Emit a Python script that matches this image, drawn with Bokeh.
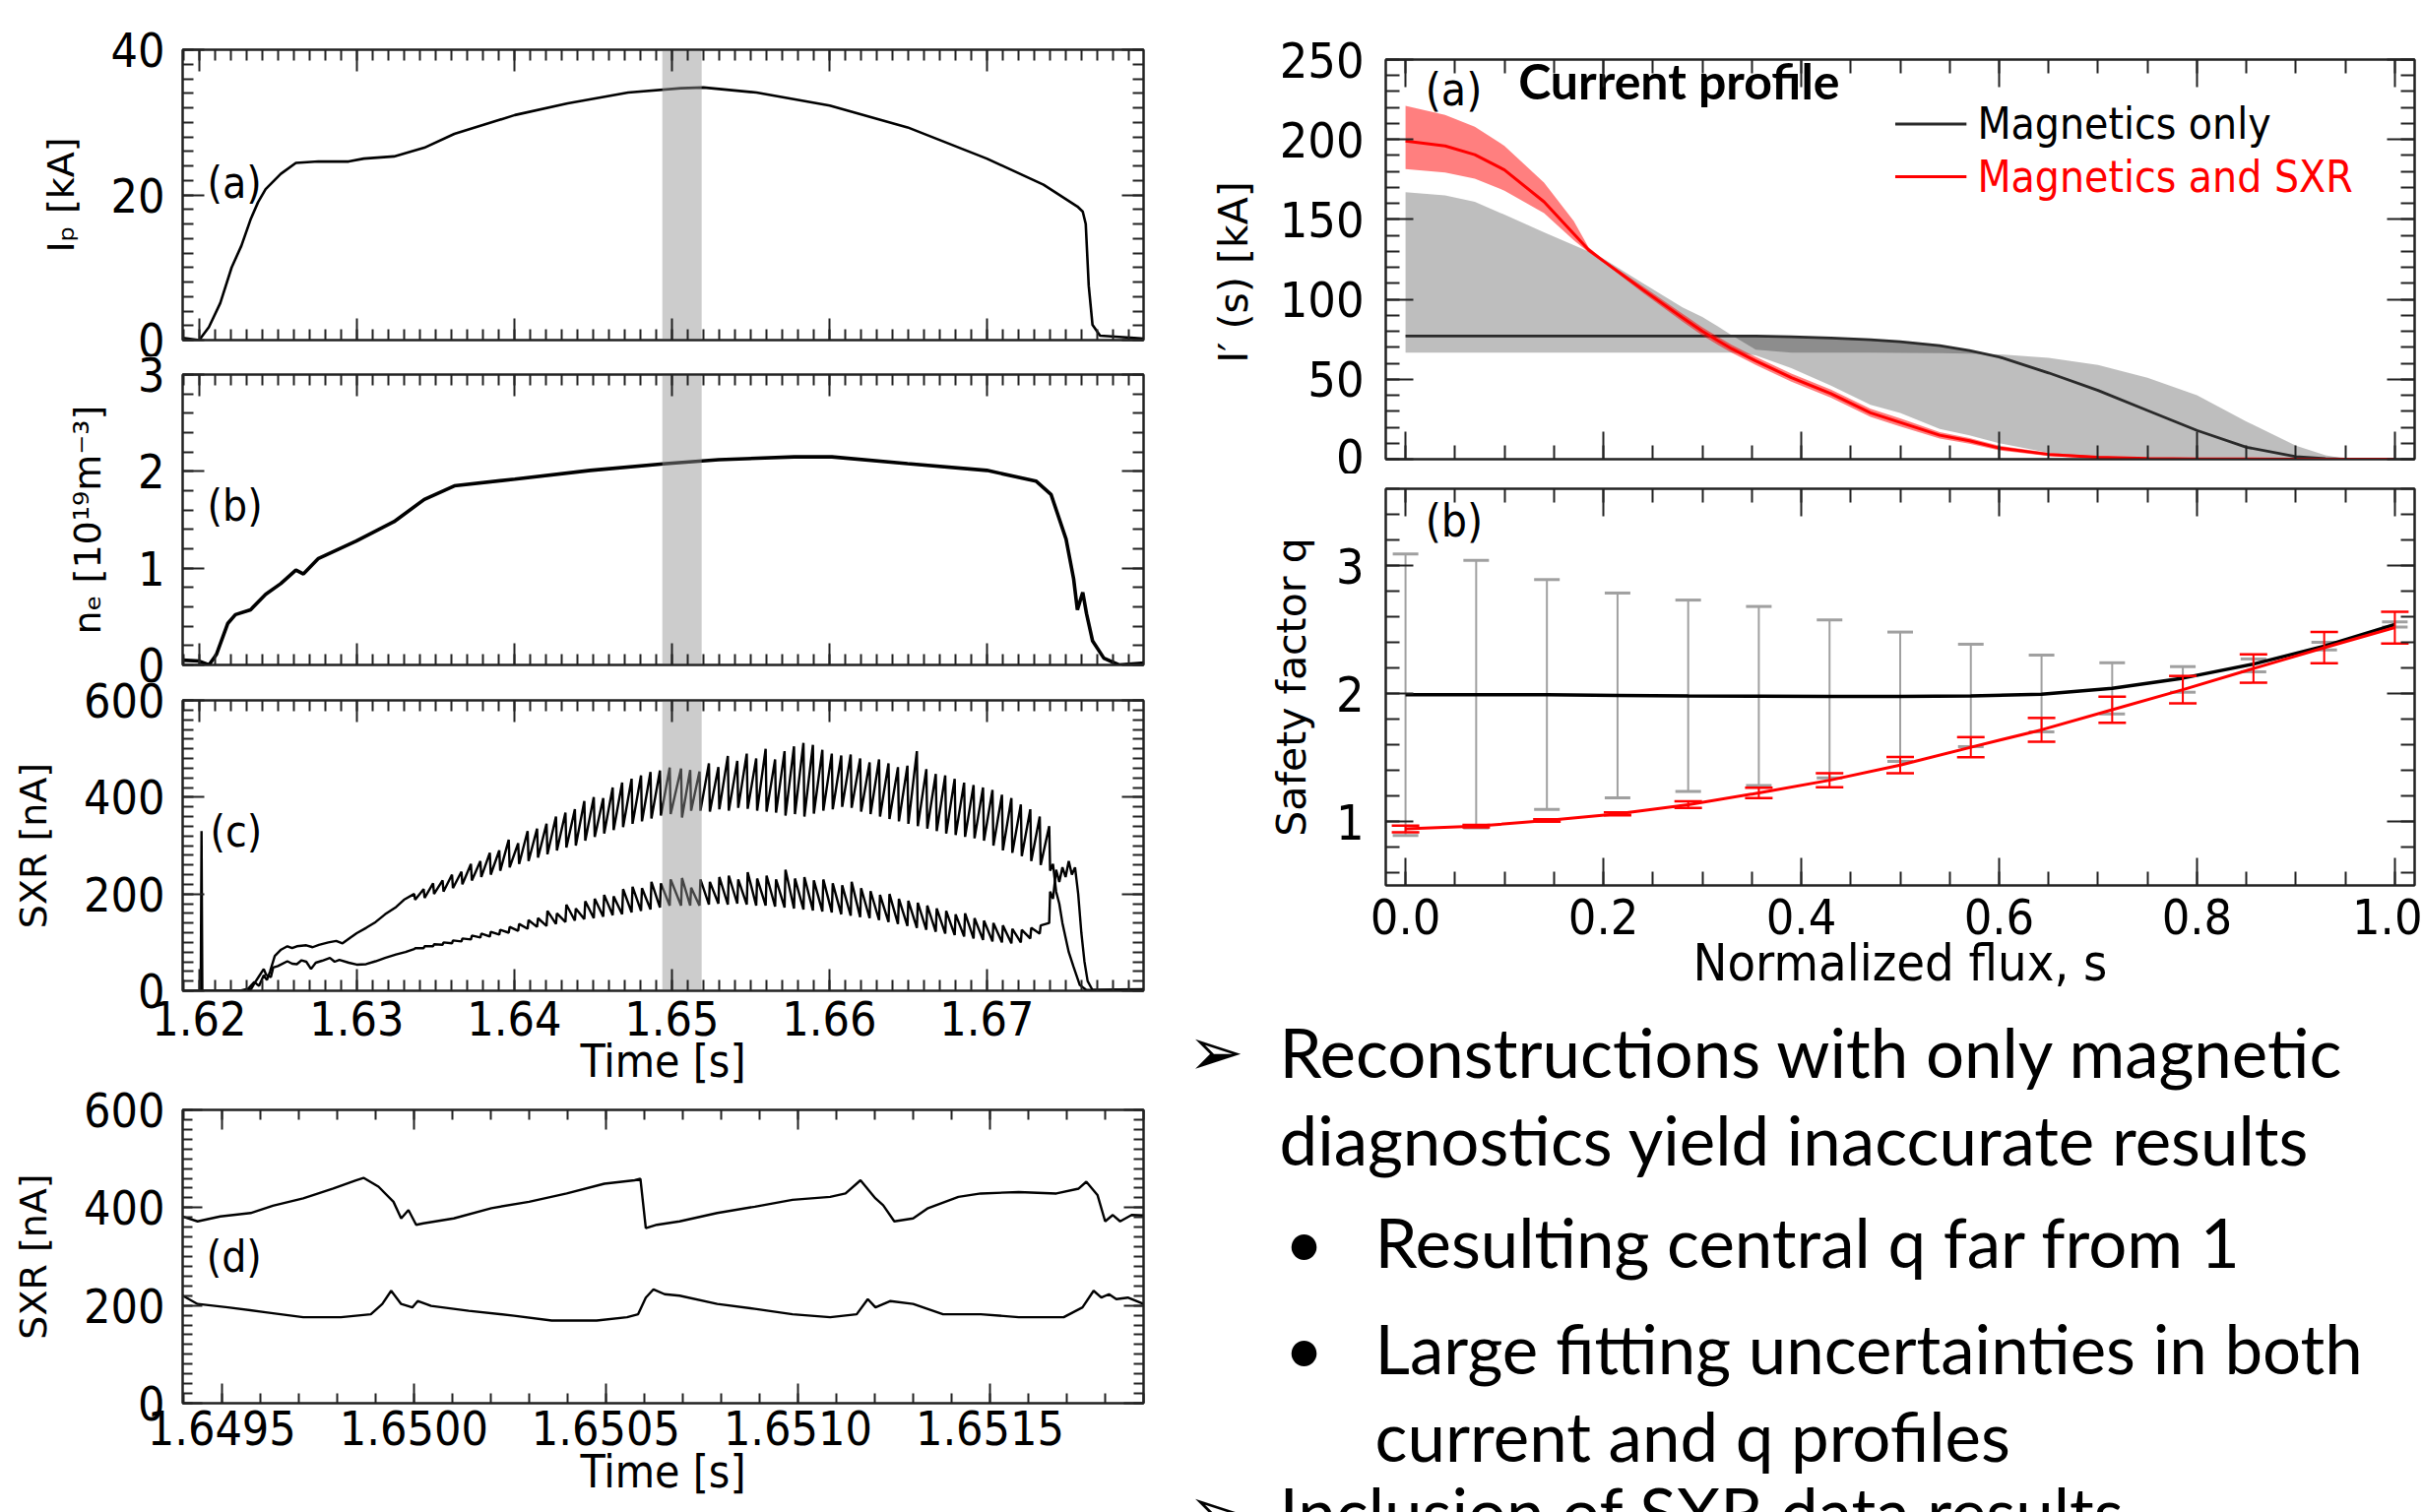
from bokeh.plotting import figure
from bokeh.layouts import row, column
from bokeh.models import (Range1d, LinearAxis, SingleIntervalTicker,
                          CustomJSTickFormatter, NumeralTickFormatter)
from bokeh.core.properties import value
from bokeh.embed import file_html
from bokeh.resources import INLINE

NARROW = "'Liberation Sans Narrow', 'DejaVu Sans Condensed', sans-serif"
LABEL = "DejaVu Sans"
BODY = "Lato"

# ---------------- data: left panels ----------------
band_t = [1.6494, 1.6519]

ip_t = [1.61895, 1.62, 1.62062, 1.62134, 1.62206, 1.62268, 1.62326, 1.62374, 1.62422, 1.62518,
        1.62614, 1.62757, 1.62949, 1.63045, 1.63237, 1.63429, 1.6362, 1.64004, 1.64339, 1.64723,
        1.65058, 1.65202, 1.65538, 1.66003, 1.66497, 1.67, 1.6736, 1.67575, 1.67609, 1.67628,
        1.67647, 1.67671, 1.67719, 1.67935, 1.68007]
ip_v = [0.3, 0.0, 1.8, 5.1, 10.0, 13.0, 16.6, 19.0, 20.8, 22.9,
        24.4, 24.6, 24.6, 25.0, 25.3, 26.5, 28.4, 31.0, 32.6, 34.1,
        34.7, 34.8, 34.1, 32.3, 29.3, 25.0, 21.4, 18.4, 17.7, 16.0,
        7.5, 2.1, 0.6, 0.3, 0.2]

ne_t = [1.61895, 1.62, 1.62062, 1.6211, 1.62182, 1.6223, 1.62326, 1.62422, 1.62518, 1.62614,
        1.62662, 1.62757, 1.62997, 1.63237, 1.63429, 1.6362, 1.64004, 1.64483, 1.64963, 1.65298,
        1.65778, 1.66017, 1.66497, 1.67, 1.67312, 1.67408, 1.67503, 1.67551, 1.67575, 1.67609,
        1.67633, 1.67671, 1.67743, 1.67839, 1.68007]
ne_v = [0.05, 0.04, 0.0, 0.11, 0.43, 0.52, 0.57, 0.73, 0.84, 0.98,
        0.94, 1.1, 1.28, 1.48, 1.71, 1.85, 1.92, 2.01, 2.08, 2.12,
        2.15, 2.15, 2.08, 2.01, 1.9, 1.76, 1.3, 0.89, 0.57, 0.75,
        0.53, 0.25, 0.07, 0.0, 0.02]

# SXR (c): start, sawtooth crashes, end
sxr1_pre_t = [1.619, 1.6201, 1.62015, 1.6202, 1.6226, 1.6231, 1.6235, 1.6238, 1.6241, 1.6243,
              1.6245, 1.6248, 1.6252, 1.6256, 1.6259, 1.6262, 1.6268, 1.6272, 1.6276, 1.6282,
              1.6287, 1.6291, 1.6296, 1.6300, 1.6306, 1.6312, 1.6318, 1.6325, 1.6330]
sxr1_pre_v = [0, 0, 330, 0, 0, 4, 18, 10, 32, 22,
              40, 72, 85, 92, 88, 92, 94, 90, 95, 100,
              103, 98, 110, 119, 130, 142, 158, 173, 188]
sxr2_pre_t = [1.619, 1.6228, 1.6233, 1.6235, 1.6238, 1.6241, 1.62425, 1.62455, 1.6247, 1.6250,
              1.6256, 1.6259, 1.6262, 1.6265, 1.6268, 1.6271, 1.6274, 1.6278, 1.6283, 1.6286,
              1.6289, 1.6295, 1.6300, 1.6306, 1.6312, 1.6318, 1.6325, 1.6331]
sxr2_pre_v = [0, 0, 4, 15, 30, 45, 33, 28, 48, 51,
              61, 56, 55, 63, 60, 45, 58, 62, 68, 60,
              64, 58, 54, 55, 61, 68, 75, 80]

crash_t = [1.63365, 1.63425, 1.63485, 1.63545, 1.63605, 1.63665, 1.63725, 1.63785, 1.63845, 1.63905,
           1.63965, 1.64025, 1.64085, 1.64145, 1.64205, 1.64265, 1.64325, 1.64385, 1.64445, 1.64505,
           1.64565, 1.64625, 1.64685, 1.64745, 1.64805, 1.64865, 1.64925, 1.64987, 1.65059, 1.65117,
           1.65176, 1.65236, 1.65296, 1.65356, 1.65416, 1.65476, 1.65536, 1.65596, 1.65656, 1.65716,
           1.65776, 1.65836, 1.65896, 1.65956, 1.66016, 1.66076, 1.66136, 1.66196, 1.66256, 1.66316,
           1.66376, 1.66436, 1.66496, 1.66556, 1.66616, 1.66676, 1.66736, 1.66796, 1.66856, 1.66916,
           1.66976, 1.67036, 1.67096, 1.67156, 1.67216, 1.67276, 1.67336, 1.67396]
sxr1_peak = [200, 210, 222, 228, 240, 246, 262, 268, 285, 290,
             312, 305, 330, 335, 345, 360, 368, 375, 392, 400,
             398, 420, 430, 438, 445, 452, 455, 461, 459, 456,
             453, 470, 462, 485, 475, 490, 480, 500, 478, 495,
             505, 512, 508, 498, 490, 486, 488, 480, 472, 478,
             470, 462, 465, 495, 458, 448, 445, 438, 430, 425,
             420, 415, 405, 398, 385, 375, 360, 340]
sxr1_trough = [188, 192, 200, 205, 212, 220, 228, 235, 240, 248,
               255, 262, 268, 275, 282, 290, 296, 300, 310, 318,
               325, 332, 338, 345, 350, 356, 362, 365, 358, 372,
               372, 370, 375, 372, 378, 376, 372, 370, 368, 362,
               365, 360, 366, 372, 375, 380, 378, 370, 365, 360,
               355, 350, 345, 340, 335, 330, 325, 322, 318, 315,
               310, 300, 290, 285, 278, 268, 260, 248]
sxr2_base = [86, 88, 92, 95, 98, 102, 106, 110, 112, 116,
             120, 124, 128, 132, 134, 138, 142, 145, 148, 150,
             153, 156, 158, 162, 165, 168, 172, 176, 176, 176,
             176, 178, 180, 178, 180, 178, 176, 176, 174, 172,
             170, 168, 166, 164, 162, 158, 155, 152, 150, 146,
             142, 138, 134, 130, 126, 122, 118, 115, 112, 108,
             105, 102, 100, 98, 100, 108, 118, 140]
sxr2_spike = [88, 92, 96, 100, 104, 108, 114, 118, 122, 126,
              132, 138, 146, 150, 165, 160, 178, 170, 185, 190,
              198, 195, 210, 215, 212, 225, 222, 230, 233, 213,
              230, 225, 235, 238, 230, 245, 232, 238, 230, 250,
              232, 235, 228, 230, 222, 218, 225, 212, 206, 198,
              200, 190, 186, 182, 176, 170, 165, 158, 160, 150,
              145, 140, 135, 128, 126, 130, 135, 205]

sxr1_post_t = [1.6742, 1.6744, 1.6746, 1.6748, 1.6752, 1.6755, 1.6759, 1.6763, 1.6770, 1.6800]
sxr1_post_v = [262, 205, 180, 140, 80, 50, 12, 2, 0, 2]
sxr2_post_t = [1.6742, 1.6744, 1.6746, 1.6748, 1.6750, 1.6752, 1.6754, 1.6756, 1.6758, 1.6760,
               1.6762, 1.6764, 1.6767, 1.6800]
sxr2_post_v = [190, 250, 225, 255, 235, 268, 240, 255, 200, 120, 60, 20, 2, 3]

# SXR (d): zoom on the grey window
d1_t = [1.649398, 1.649437, 1.649496, 1.649575, 1.649633, 1.649712, 1.64979, 1.649849, 1.649869, 1.649908,
        1.649947, 1.649967, 1.649986, 1.650006, 1.650025, 1.650104, 1.650202, 1.6503, 1.650398, 1.650496,
        1.650575, 1.65059, 1.650604, 1.650633, 1.650692, 1.65079, 1.650888, 1.650986, 1.651084, 1.651124,
        1.651163, 1.651202, 1.651222, 1.651251, 1.6513, 1.651339, 1.651418, 1.651476, 1.651575, 1.651673,
        1.651731, 1.651751, 1.65178, 1.6518, 1.65182, 1.651839, 1.651869, 1.6519]
d1_v = [382, 372, 382, 389, 404, 419, 439, 456, 461, 443,
        412, 378, 395, 365, 368, 378, 399, 412, 429, 449,
        456, 459, 358, 365, 372, 389, 402, 416, 422, 429,
        456, 419, 405, 372, 378, 399, 422, 429, 432, 429,
        439, 453, 426, 372, 385, 372, 385, 384]
d2_t = [1.649398, 1.649437, 1.649516, 1.649614, 1.649712, 1.64981, 1.649888, 1.649918, 1.649941, 1.649967,
        1.649996, 1.65001, 1.650045, 1.650143, 1.650261, 1.650359, 1.650476, 1.650555, 1.650584, 1.650604,
        1.650624, 1.650653, 1.650692, 1.65079, 1.650888, 1.650986, 1.651084, 1.651153, 1.651182, 1.651202,
        1.651241, 1.6513, 1.651378, 1.651476, 1.651575, 1.651692, 1.651741, 1.65177, 1.65179, 1.65181,
        1.651829, 1.651859, 1.6519]
d2_v = [220, 203, 196, 186, 176, 176, 182, 203, 230, 203,
        196, 209, 199, 189, 179, 169, 169, 176, 182, 216,
        233, 223, 220, 203, 193, 182, 176, 182, 213, 196,
        209, 203, 182, 182, 176, 176, 196, 230, 216, 223,
        213, 216, 203]

# ---------------- data: right panels ----------------
flux_s = [0, 0.04, 0.07, 0.1, 0.14, 0.17, 0.185, 0.2, 0.24, 0.28,
          0.3, 0.316, 0.33, 0.354, 0.39, 0.43, 0.47, 0.5, 0.54, 0.57,
          0.6, 0.65, 0.7, 0.75, 0.8, 0.85, 0.9, 0.93, 0.95, 1.0]
mag_mid = [77, 77, 77, 77, 77, 77, 77, 77, 77, 77,
           77, 77, 77, 77, 76.6, 75.8, 74.8, 73.5, 71, 68,
           64, 54, 43, 30.5, 18, 7.5, 1.6, 0.3, 0, 0]
mag_hi = [167, 165, 161, 153, 142, 134, 130, 125.5, 110, 95,
          89, 83, 77.5, 68.5, 66.6, 66.6, 66.6, 66.5, 66.3, 66,
          65.6, 63.5, 59, 51, 40, 23.6, 8.5, 2.5, 0.3, 0]
mag_lo = [66.6, 66.6, 66.6, 66.6, 66.6, 66.6, 66.6, 66.6, 66.6, 66.6,
          66.6, 66.6, 66.6, 65, 57, 46, 34, 29, 19, 15,
          10, 4, 1, 0.2, 0, 0, 0, 0, 0, 0]
sxr_mid = [199, 196, 190.5, 181, 161, 141, 131, 124, 106, 88.5,
           80, 74, 69, 61.5, 51, 41, 29, 23, 15, 11.5,
           7, 3, 1.2, 0.5, 0.2, 0.1, 0, 0, 0, 0]
sxr_hi = [221, 215.4, 208, 196, 173, 149, 132.5, 125, 108, 91,
          82.5, 76.5, 71.5, 64, 53.5, 43.5, 31.5, 25.5, 17, 13.3,
          8.5, 4, 1.8, 0.8, 0.4, 0.2, 0, 0, 0, 0]
sxr_lo = [181.5, 179.4, 175.5, 168, 154, 137, 129.5, 123, 104, 86,
          77.5, 71.5, 66.5, 59, 48.5, 38.5, 26.5, 20.5, 13, 9.7,
          5.5, 2, 0.6, 0.2, 0, 0, 0, 0, 0, 0]

q_s = [0.0, 0.0714, 0.1429, 0.2143, 0.2857, 0.3571, 0.4286, 0.5, 0.5714, 0.6429,
       0.7143, 0.7857, 0.8571, 0.9286, 1.0]
q_mag = [1.99, 1.99, 1.99, 1.985, 1.98, 1.978, 1.976, 1.976, 1.98, 1.995,
         2.04, 2.12, 2.23, 2.37, 2.54]
q_mag_hi = [3.09, 3.04, 2.89, 2.785, 2.73, 2.68, 2.575, 2.48, 2.385, 2.30,
            2.24, 2.21, 2.27, 2.40, 2.56]
q_mag_lo = [0.89, 0.95, 1.095, 1.185, 1.235, 1.28, 1.34, 1.47, 1.585, 1.70,
            1.84, 2.01, 2.17, 2.34, 2.52]
q_sxr = [0.942, 0.963, 1.008, 1.06, 1.131, 1.223, 1.322, 1.44, 1.58, 1.716,
         1.873, 2.03, 2.195, 2.358, 2.515]
q_sxr_err = [0.026, 0.01, 0.01, 0.012, 0.026, 0.04, 0.055, 0.063, 0.079, 0.093,
             0.102, 0.107, 0.111, 0.122, 0.124]

legend_labels = ["Magnetics only", "Magnetics and SXR"]
bullet_lines = [
    ("arrow", "Reconstructions with only magnetic"),
    ("cont", "diagnostics yield inaccurate results"),
    ("bullet", "Resulting central q far from 1"),
    ("bullet", "Large fitting uncertainties in both"),
    ("cont2", "current and q profiles"),
    ("arrow", "Inclusion of SXR data results"),
]

# ---------------- helpers ----------------
BLANK = CustomJSTickFormatter(code="return ''")


def base_fig(w, h, bl, br, bt, bb, xr, yr):
    p = figure(width=w, height=h, x_range=Range1d(*xr), y_range=Range1d(*yr), title=None,
               min_border_left=bl, min_border_right=br, min_border_top=bt, min_border_bottom=bb,
               output_backend="svg", toolbar_location=None)
    p.grid.visible = False
    p.outline_line_color = "#222222"
    p.outline_line_width = 2
    return p


def style_axis(ax, ticker, fmt, maj, mnr, fs, standoff):
    ax.ticker = ticker
    ax.formatter = fmt
    ax.major_tick_in = maj
    ax.major_tick_out = 0
    ax.minor_tick_in = mnr
    ax.minor_tick_out = 0
    ax.axis_line_width = 2
    ax.axis_line_color = "#222222"
    ax.major_tick_line_width = 2
    ax.minor_tick_line_width = 2
    ax.major_tick_line_color = "#222222"
    ax.minor_tick_line_color = "#222222"
    ax.major_label_text_font = NARROW
    ax.major_label_text_font_size = fs
    ax.major_label_standoff = standoff
    ax.major_label_text_color = "black"
    ax.axis_label_text_font_style = "normal"
    ax.axis_label_text_color = "black"


def setup_axes(p, xt, yt, xfmt, yfmt, maj, mnr, fs, xstand, ystand):
    xb = p.xaxis[0]
    yl = p.yaxis[0]
    style_axis(xb, xt, xfmt if xfmt else BLANK, maj, mnr, fs if xfmt else "0px", xstand if xfmt else 0)
    style_axis(yl, yt, yfmt, maj, mnr, fs, ystand)
    top = LinearAxis()
    style_axis(top, xt, BLANK, maj, mnr, "0px", 0)
    right = LinearAxis()
    style_axis(right, yt, BLANK, maj, mnr, "0px", 0)
    p.add_layout(top, "above")
    p.add_layout(right, "right")
    return xb, yl


def axlabel(ax, txt, size, standoff, font=LABEL):
    ax.axis_label = txt
    ax.axis_label_text_font = font
    ax.axis_label_text_font_size = size
    ax.axis_label_standoff = standoff


def panel_label(p, x, y, txt, size="44px"):
    p.text(x=[x], y=[y], text=[txt], text_font=value(NARROW), text_font_size=value(size),
           text_align="left", text_baseline="middle", text_color="black")


def tick_x(interval, minor):
    return SingleIntervalTicker(interval=interval, num_minor_ticks=minor)


LW = 2.6
XR = (1.61895, 1.67995)
TICK_FS = "48px"

# ---------------- (a) Ip ----------------
fa = base_fig(1200, 362, 185, 39, 50, 17, XR, (0, 40))
xa, ya = setup_axes(fa, tick_x(0.01, 10), tick_x(20, 10), None, NumeralTickFormatter(format="0"),
                    22, 11, TICK_FS, 0, 18)
axlabel(ya, "Iₚ [kA]", "38px", 26)
fa.line(ip_t, ip_v, line_color="black", line_width=LW)
fa.quad(left=[band_t[0]], right=[band_t[1]], bottom=[0], top=[40],
        fill_color="#939393", fill_alpha=0.47, line_color=None)
panel_label(fa, 1.62052, 21.7, "(a)")

# ---------------- (b) ne ----------------
fb = base_fig(1200, 331, 185, 39, 18, 18, XR, (0, 3))
xb_, yb = setup_axes(fb, tick_x(0.01, 10), tick_x(1, 5), None, NumeralTickFormatter(format="0"),
                     22, 11, TICK_FS, 0, 18)
axlabel(yb, "nₑ [10¹⁹m⁻³]", "38px", 26)
fb.line(ne_t, ne_v, line_color="black", line_width=3.6)
fb.quad(left=[band_t[0]], right=[band_t[1]], bottom=[0], top=[3],
        fill_color="#939393", fill_alpha=0.47, line_color=None)
panel_label(fb, 1.62052, 1.65, "(b)")

# ---------------- (c) SXR ----------------
up_t = list(sxr1_pre_t)
up_v = list(sxr1_pre_v)
lo_t = list(sxr2_pre_t)
lo_v = list(sxr2_pre_v)
for ct, pk, tr, bs, sp in zip(crash_t, sxr1_peak, sxr1_trough, sxr2_base, sxr2_spike):
    up_t += [ct, ct + 0.00006]
    up_v += [pk, tr]
    lo_t += [ct, ct + 0.00006]
    lo_v += [bs, sp]
up_t += sxr1_post_t
up_v += sxr1_post_v
lo_t += sxr2_post_t
lo_v += sxr2_post_v

fc = base_fig(1200, 415, 185, 39, 18, 102, XR, (0, 600))
xc, yc = setup_axes(fc, tick_x(0.01, 10), tick_x(200, 10), NumeralTickFormatter(format="0.00"),
                    NumeralTickFormatter(format="0"), 22, 11, TICK_FS, 10, 18)
axlabel(yc, "SXR [nA]", "38px", 26)
axlabel(xc, "Time [s]", "46px", -4, font=NARROW)
fc.line(up_t, up_v, line_color="black", line_width=2.4)
fc.line(lo_t, lo_v, line_color="black", line_width=2.4)
fc.quad(left=[band_t[0]], right=[band_t[1]], bottom=[0], top=[600],
        fill_color="#939393", fill_alpha=0.47, line_color=None)
panel_label(fc, 1.6207, 329, "(c)")

# ---------------- (d) SXR zoom ----------------
fd = base_fig(1200, 428, 185, 39, 19, 111, (1.649398, 1.6519), (0, 600))
xd, yd = setup_axes(fd, tick_x(0.0005, 5), tick_x(200, 10), NumeralTickFormatter(format="0.0000"),
                    NumeralTickFormatter(format="0"), 20, 10, TICK_FS, 7, 18)
axlabel(yd, "SXR [nA]", "38px", 26)
axlabel(xd, "Time [s]", "46px", -3, font=NARROW)
fd.line(d1_t, d1_v, line_color="black", line_width=2.4)
fd.line(d2_t, d2_v, line_color="black", line_width=2.4)
panel_label(fd, 1.64946, 300, "(d)")

# ---------------- right (a) current profile ----------------
ra = base_fig(1260, 481, 207, 8, 60, 15, (-0.02, 1.02), (0, 250))
xra, yra = setup_axes(ra, tick_x(0.2, 4), tick_x(50, 5), None, NumeralTickFormatter(format="0"),
                      28, 14, "50px", 0, 22)
axlabel(yra, "I′   (s) [kA]", "41px", 20)
ra.varea(x=flux_s, y1=mag_mid, y2=mag_hi, fill_color="black", fill_alpha=0.255)
ra.varea(x=flux_s, y1=mag_lo, y2=mag_mid, fill_color="black", fill_alpha=0.255)
ra.line(flux_s, mag_mid, line_color="#2a2a2a", line_width=2.8)
ra.varea(x=flux_s, y1=sxr_mid, y2=sxr_hi, fill_color="red", fill_alpha=0.5)
ra.varea(x=flux_s, y1=sxr_lo, y2=sxr_mid, fill_color="red", fill_alpha=0.5)
ra.line(flux_s, sxr_mid, line_color="red", line_width=3)
panel_label(ra, 0.02, 231, "(a)", "46px")
ra.text(x=[0.114], y=[236.5], text=["Current profile"], text_font=value(BODY),
        text_font_size=value("50px"), text_font_style="bold", text_align="left",
        text_baseline="middle", text_color="black")
leg_colors = ["#2a2a2a", "red"]
leg_y = [209.7, 176.7]
for lab, col, ly in zip(legend_labels, leg_colors, leg_y):
    ra.line([0.495, 0.567], [ly, ly], line_color=col, line_width=3)
    ra.text(x=[0.578], y=[ly], text=[lab], text_font=value(NARROW), text_font_size=value("44px"),
            text_align="left", text_baseline="middle",
            text_color="black" if col != "red" else "red")

# ---------------- right (b) safety factor ----------------
rb = base_fig(1260, 529, 207, 8, 15, 111, (-0.02, 1.02), (0.5, 3.6))
xrb, yrb = setup_axes(rb, tick_x(0.2, 4), tick_x(1, 5), NumeralTickFormatter(format="0.0"),
                      NumeralTickFormatter(format="0"), 28, 14, "50px", 13, 22)
axlabel(yrb, "Safety factor q", "41px", 18)
axlabel(xrb, "Normalized flux, s", "52px", -4, font=NARROW)
rb.segment(x0=q_s, y0=q_mag_lo, x1=q_s, y1=q_mag_hi, line_color="#a0a0a0", line_width=2)
rb.scatter(q_s, q_mag_hi, marker="dash", size=26, line_color="#a0a0a0", line_width=3)
rb.scatter(q_s, q_mag_lo, marker="dash", size=26, line_color="#a0a0a0", line_width=3)
rb.line(q_s, q_mag, line_color="black", line_width=3.5)
q_hi = [a + b for a, b in zip(q_sxr, q_sxr_err)]
q_lo = [a - b for a, b in zip(q_sxr, q_sxr_err)]
rb.segment(x0=q_s, y0=q_lo, x1=q_s, y1=q_hi, line_color="red", line_width=2)
rb.scatter(q_s, q_hi, marker="dash", size=28, line_color="red", line_width=2.5)
rb.scatter(q_s, q_lo, marker="dash", size=28, line_color="red", line_width=2.5)
rb.line(q_s, q_sxr, line_color="red", line_width=3)
panel_label(rb, 0.02, 3.35, "(b)", "46px")

# ---------------- text block ----------------
tf = figure(width=1260, height=526, x_range=Range1d(0, 1260), y_range=Range1d(526, 0),
            title=None, min_border_left=0, min_border_right=0, min_border_top=0,
            min_border_bottom=0, x_axis_type=None, y_axis_type=None, output_backend="svg",
            toolbar_location=None)
try:
    tf.frame_align = False
except Exception:
    pass
tf.grid.visible = False
tf.outline_line_color = None
base_y = [58, 147, 251, 359, 448, 525]
for (kind, txt), by in zip(bullet_lines, base_y):
    if kind == "arrow":
        tf.text(x=[6], y=[by], text=["➢"], text_font=value("DejaVu Sans"),
                text_font_size=value("68px"), text_baseline="alphabetic", text_color="black")
        tx = 99
    elif kind == "bullet":
        tf.text(x=[104], y=[by], text=["•"], text_font=value(BODY),
                text_font_size=value("69px"), text_baseline="alphabetic", text_color="black")
        tx = 196
    elif kind == "cont2":
        tx = 196
    else:
        tx = 99
    tf.text(x=[tx], y=[by], text=[txt], text_font=value(BODY), text_font_size=value("69px"),
            text_baseline="alphabetic", text_align="left", text_color="black")

layout = row(column(fa, fb, fc, fd), column(ra, rb, tf))
open("out.html", "w").write(file_html(layout, INLINE))
